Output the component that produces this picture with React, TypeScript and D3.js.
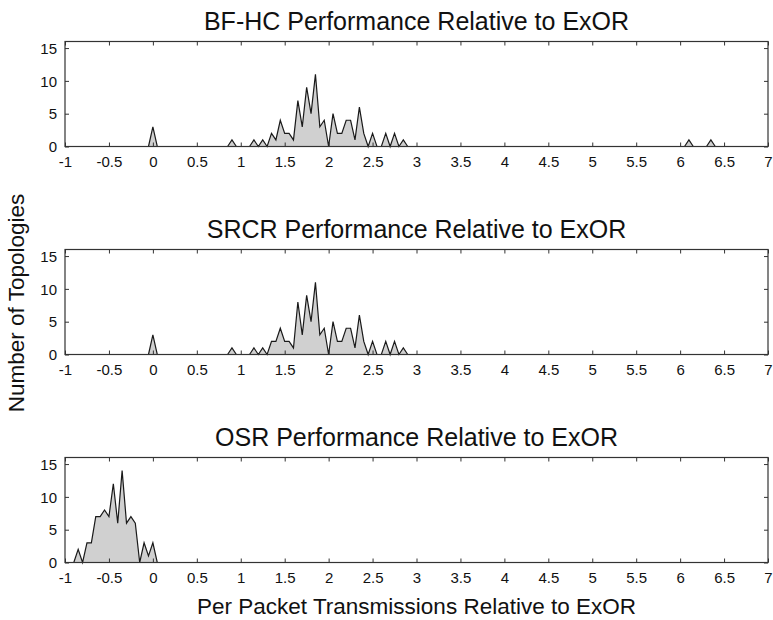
import React, { useEffect, useRef } from 'react';
import * as d3 from 'd3';

// bin centres (step 0.05) and topology counts
const bfhcBins = [
  -0.05, 0, 0.05,
  0.85, 0.9, 0.95,
  1.1, 1.15, 1.2, 1.25, 1.3, 1.35, 1.4, 1.45, 1.5, 1.55, 1.6, 1.65, 1.7, 1.75, 1.8, 1.85, 1.9, 1.95,
  2.0, 2.05, 2.1, 2.15, 2.2, 2.25, 2.3, 2.35, 2.4, 2.45, 2.5, 2.55, 2.6, 2.65, 2.7, 2.75, 2.8, 2.85, 2.9,
  6.05, 6.1, 6.15, 6.3, 6.35, 6.4,
];
const bfhcCounts = [
  0, 3, 0,
  0, 1, 0,
  0, 1, 0, 1, 0, 2, 1, 4, 2, 2, 1, 7, 3, 9, 5, 11, 3, 4,
  0, 5, 2, 2, 4, 4, 1, 6, 2, 0, 2, 0, 0, 2, 0, 2, 0, 1, 0,
  0, 1, 0, 0, 1, 0,
];

const srcrBins = [
  -0.05, 0, 0.05,
  0.85, 0.9, 0.95,
  1.1, 1.15, 1.2, 1.25, 1.3, 1.35, 1.4, 1.45, 1.5, 1.55, 1.6, 1.65, 1.7, 1.75, 1.8, 1.85, 1.9, 1.95,
  2.0, 2.05, 2.1, 2.15, 2.2, 2.25, 2.3, 2.35, 2.4, 2.45, 2.5, 2.55, 2.6, 2.65, 2.7, 2.75, 2.8, 2.85, 2.9,
];
const srcrCounts = [
  0, 3, 0,
  0, 1, 0,
  0, 1, 0, 1, 0, 2, 2, 4, 2, 2, 1, 8, 3, 9, 5, 11, 3, 4,
  0, 5, 2, 2, 4, 4, 1, 6, 2, 0, 2, 0, 0, 2, 0, 2, 0, 1, 0,
];

const osrBins = [
  -0.9, -0.85, -0.8, -0.75, -0.7, -0.65, -0.6, -0.55, -0.5, -0.45,
  -0.4, -0.35, -0.3, -0.25, -0.2, -0.15, -0.1, -0.05, 0, 0.05,
];
const osrCounts = [
  0, 2, 0, 3, 3, 7, 7, 8, 7, 12,
  6, 14, 6, 7, 6, 0, 3, 1, 3, 0,
];

const panelTitles = [
  'BF-HC Performance Relative to ExOR',
  'SRCR Performance Relative to ExOR',
  'OSR Performance Relative to ExOR',
];
const xTicks = [-1, -0.5, 0, 0.5, 1, 1.5, 2, 2.5, 3, 3.5, 4, 4.5, 5, 5.5, 6, 6.5, 7];
const yTicks = [0, 5, 10, 15];
const xLabel = 'Per Packet Transmissions Relative to ExOR';
const yLabel = 'Number of Topologies';

export default function App() {
  const svgRef = useRef<SVGSVGElement>(null);

  const width = 773;
  const height = 620;
  const left = 65;
  const right = 768;
  const panelTops = [41.5, 249.5, 457.5];
  const panelH = 105;
  const font = '"Liberation Sans", Arial, Helvetica, sans-serif';

  useEffect(() => {
    if (!svgRef.current) return;
    const svg = d3.select(svgRef.current);
    svg.selectAll('*').remove();

    const xScale = d3.scaleLinear().domain([-1, 7]).range([left, right]);
    const series = [
      { bins: bfhcBins, counts: bfhcCounts },
      { bins: srcrBins, counts: srcrCounts },
      { bins: osrBins, counts: osrCounts },
    ];

    series.forEach((s, i) => {
      const top = panelTops[i];
      const yScale = d3.scaleLinear().domain([0, 16]).range([top + panelH, top]);
      const pts = s.bins.map((b, j) => ({ x: b, c: s.counts[j] }));
      const g = svg.append('g');

      // histogram outline, filled grey
      const area = d3.area<{ x: number; c: number }>()
        .x(d => xScale(d.x))
        .y0(yScale(0))
        .y1(d => yScale(d.c));
      const line = d3.line<{ x: number; c: number }>()
        .x(d => xScale(d.x))
        .y(d => yScale(d.c));

      g.append('path').attr('d', area(pts)).attr('fill', '#d0d0d0');
      g.append('path').attr('d', line(pts))
        .attr('fill', 'none').attr('stroke', '#1a1a1a').attr('stroke-width', 1.2)
        .attr('stroke-linejoin', 'miter');

      // axes: ticks point inward on all four sides
      const bottom = g.append('g')
        .attr('transform', `translate(0, ${yScale(0)})`)
        .call(d3.axisBottom(xScale).tickValues(xTicks).tickSizeInner(-4).tickSizeOuter(0)
          .tickPadding(10).tickFormat(d => String(d)));
      g.append('g')
        .attr('transform', `translate(0, ${top})`)
        .call(d3.axisTop(xScale).tickValues(xTicks).tickSizeInner(-4).tickSizeOuter(0)
          .tickFormat(() => ''));
      const leftAx = g.append('g')
        .attr('transform', `translate(${left}, 0)`)
        .call(d3.axisLeft(yScale).tickValues(yTicks).tickSizeInner(-4).tickSizeOuter(0)
          .tickPadding(8).tickFormat(d => String(d)));
      g.append('g')
        .attr('transform', `translate(${right}, 0)`)
        .call(d3.axisRight(yScale).tickValues(yTicks).tickSizeInner(-4).tickSizeOuter(0)
          .tickFormat(() => ''));

      g.selectAll('.domain').remove();
      g.selectAll('.tick line').attr('stroke', '#333');
      g.selectAll('.tick text')
        .attr('fill', '#111').attr('font-size', 15).attr('font-family', font);
      bottom.selectAll('.tick text').attr('dy', '0.71em');
      leftAx.selectAll('.tick text').attr('dy', '0.35em');

      g.append('rect')
        .attr('x', left).attr('y', top)
        .attr('width', right - left).attr('height', panelH)
        .attr('fill', 'none').attr('stroke', '#333').attr('stroke-width', 1.2);

      g.append('text')
        .attr('x', (left + right) / 2).attr('y', top - 12)
        .attr('text-anchor', 'middle')
        .attr('font-family', font).attr('font-size', 25).attr('fill', '#111')
        .text(panelTitles[i]);
    });

    svg.append('text')
      .attr('x', (left + right) / 2).attr('y', 614)
      .attr('text-anchor', 'middle')
      .attr('font-family', font).attr('font-size', 22.5).attr('fill', '#111')
      .text(xLabel);

    svg.append('text')
      .attr('transform', `translate(24, 303) rotate(-90)`)
      .attr('text-anchor', 'middle')
      .attr('font-family', font).attr('font-size', 22.5).attr('fill', '#111')
      .text(yLabel);
  }, []);

  return (
    <svg
      ref={svgRef}
      width={width}
      height={height}
      viewBox={`0 0 ${width} ${height}`}
      style={{ position: 'absolute', left: 0, top: 0, background: '#fff' }}
    />
  );
}
